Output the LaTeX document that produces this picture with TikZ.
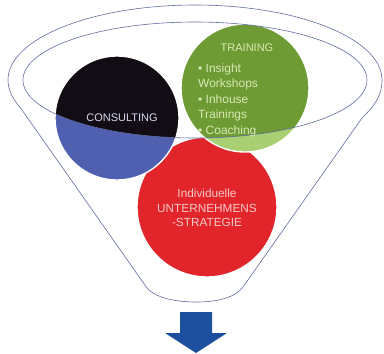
\documentclass[tikz,border=0pt]{standalone}
\usepackage{fontspec}
\setmainfont{Liberation Sans}
\usepackage{tikz}
\usetikzlibrary{calc}
\definecolor{funnelline}{RGB}{96,108,160}
\definecolor{consblack}{RGB}{18,13,20}
\definecolor{consblue}{RGB}{80,96,176}
\definecolor{traingreen}{RGB}{110,155,52}
\definecolor{trainlight}{RGB}{168,207,114}
\definecolor{stratred}{RGB}{225,37,42}
\definecolor{arrowblue}{RGB}{29,79,158}
\tikzset{
	rim/.style={draw=funnelline, line width=0.6pt},
	disc/.style={draw=white, line width=1.4pt},
	circle text/.style={inner sep=0pt, font=\fontsize{11}{13}\selectfont}
}

\begin{document}
\begin{tikzpicture}[x=1pt,y=-1pt]
	\useasboundingbox (0,0) rectangle (384,354);

	% Draw the funnel outline
	\draw[rim] (8,80) arc (180:360:187 and 75)
		.. controls (382,98) and (372,108) .. (362,118) -- (243,287)
		.. controls (235,298) and (216,302) .. (197,302)
		.. controls (178,302) and (157,299) .. (147,288) -- (22,110)
		.. controls (14,100) and (8,92) .. (8,80);

	% Red circle
	\fill[stratred] (207,207) circle (70);
	\draw[disc] (207,207) circle (70);

	% Consulting circle, dark part inside the rim
	\fill[consblue] (117,118) circle (62);
	\begin{scope}
		\clip (195,80) ellipse (172 and 58);
		\fill[consblack] (117,118) circle (62);
	\end{scope}
	\draw[disc] (117,118) circle (62);

	% Training circle, light part below the rim
	\fill[trainlight] (245,88) circle (64);
	\begin{scope}
		\clip (195,80) ellipse (172 and 58);
		\fill[traingreen] (245,88) circle (64);
	\end{scope}
	\draw[disc] (245,88) circle (64);

	% Inner rim
	\draw[rim] (195,80) ellipse (172 and 58);

	% Labels
	\node[circle text, text={rgb,255:red,216;green,216;blue,240}] (consulting) at (122,118) {CONSULTING};
	\node[circle text, text={rgb,255:red,217;green,233;blue,181}] (training) at (247,48) {TRAINING};
	\node[circle text, anchor=north west, align=left, font=\fontsize{12}{15.5}\selectfont,
		text={rgb,255:red,217;green,233;blue,181}] (trainlist) at (198,63.5)
		{• Insight\\Workshops\\• Inhouse\\Trainings\\• Coaching};
	\node[circle text, align=center, font=\fontsize{11.8}{14.5}\selectfont,
		text={rgb,255:red,247;green,201;blue,201}] (strategy) at (207,208)
		{Individuelle\\UNTERNEHMENS\\-STRATEGIE};

	% Arrow below the funnel
	\fill[arrowblue] (180,312) -- (212,312) -- (212,333) -- (227,333) -- (196,353)
		-- (165,333) -- (180,333) -- cycle;
\end{tikzpicture}
\end{document}
